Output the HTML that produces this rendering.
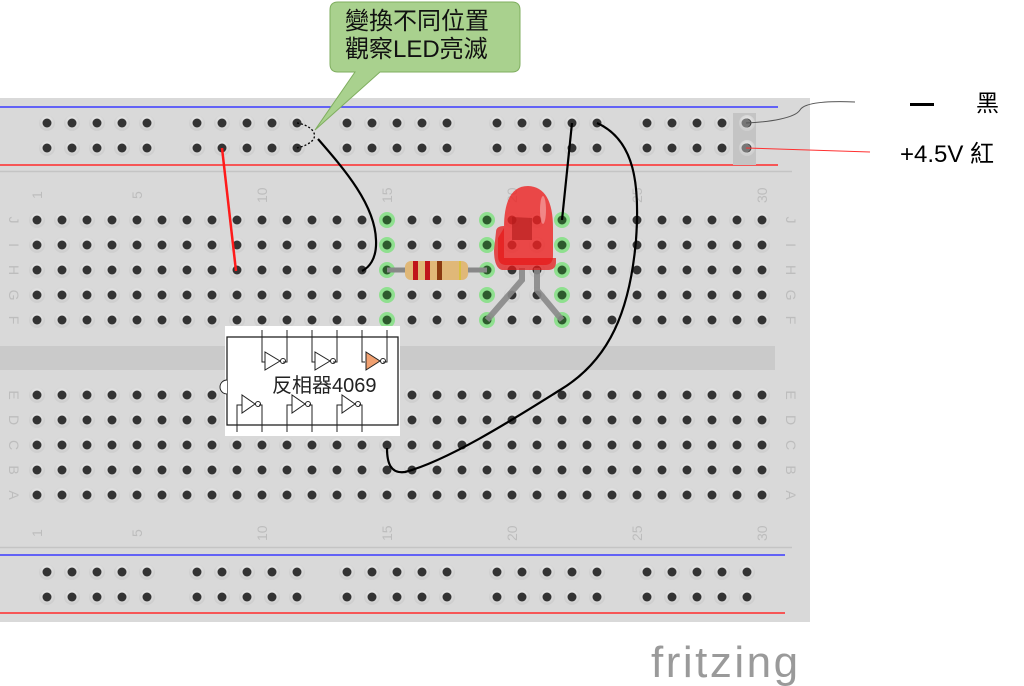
<!DOCTYPE html>
<html><head><meta charset="utf-8"><style>
html,body{margin:0;padding:0;background:#fff;width:1024px;height:686px;overflow:hidden}
svg{display:block}
text{font-family:"Liberation Sans","Noto Sans CJK TC",sans-serif}
</style></head><body>
<svg width="1024" height="686" viewBox="0 0 1024 686" xmlns="http://www.w3.org/2000/svg">
<defs>
<radialGradient id="ring" cx="50%" cy="40%" r="50%"><stop offset="0" stop-color="#f4f4f4"/><stop offset="1" stop-color="#cfcfcf"/></radialGradient>
<pattern id="grid" x="24.5" y="207.5" width="25" height="25" patternUnits="userSpaceOnUse">
<circle cx="12.5" cy="12.5" r="8" fill="url(#ring)"/><circle cx="12.5" cy="12.5" r="4.5" fill="#333"/>
</pattern>
<pattern id="rail" x="34.5" y="110.5" width="150" height="25" patternUnits="userSpaceOnUse">
<g fill="url(#ring)"><circle cx="12.5" cy="12.5" r="8"/><circle cx="37.5" cy="12.5" r="8"/><circle cx="62.5" cy="12.5" r="8"/><circle cx="87.5" cy="12.5" r="8"/><circle cx="112.5" cy="12.5" r="8"/></g>
<g fill="#333"><circle cx="12.5" cy="12.5" r="4.5"/><circle cx="37.5" cy="12.5" r="4.5"/><circle cx="62.5" cy="12.5" r="4.5"/><circle cx="87.5" cy="12.5" r="4.5"/><circle cx="112.5" cy="12.5" r="4.5"/></g>
</pattern>
<pattern id="rail2" x="34.5" y="559.5" width="150" height="25" patternUnits="userSpaceOnUse">
<g fill="url(#ring)"><circle cx="12.5" cy="12.5" r="8"/><circle cx="37.5" cy="12.5" r="8"/><circle cx="62.5" cy="12.5" r="8"/><circle cx="87.5" cy="12.5" r="8"/><circle cx="112.5" cy="12.5" r="8"/></g>
<g fill="#333"><circle cx="12.5" cy="12.5" r="4.5"/><circle cx="37.5" cy="12.5" r="4.5"/><circle cx="62.5" cy="12.5" r="4.5"/><circle cx="87.5" cy="12.5" r="4.5"/><circle cx="112.5" cy="12.5" r="4.5"/></g>
</pattern>
</defs>
<rect x="0" y="98" width="810" height="524" fill="#d9d9d9"/>
<line x1="0" y1="107" x2="778" y2="107" stroke="#3a3aff" stroke-width="1.5"/>
<line x1="0" y1="165" x2="778" y2="165" stroke="#ff2a2a" stroke-width="1.5"/>
<line x1="0" y1="171.5" x2="792" y2="171.5" stroke="#c4c4c4" stroke-width="1.5"/>
<rect x="0" y="346" width="775" height="24" fill="#cacaca"/>
<line x1="0" y1="547.5" x2="792" y2="547.5" stroke="#c4c4c4" stroke-width="1.5"/>
<line x1="0" y1="555" x2="785" y2="555" stroke="#3a3aff" stroke-width="1.5"/>
<line x1="0" y1="613" x2="785" y2="613" stroke="#ff2a2a" stroke-width="1.5"/>
<rect x="733" y="113" width="23" height="52" fill="#c4c4c4"/>
<rect x="34" y="110" width="730" height="50" fill="url(#rail)"/>
<rect x="34" y="559" width="730" height="50" fill="url(#rail2)"/>
<rect x="25" y="208" width="750" height="125" fill="url(#grid)"/>
<rect x="25" y="383" width="750" height="125" fill="url(#grid)"/>
<circle cx="746" cy="123" r="4.5" fill="#777"/><circle cx="746" cy="148" r="4.5" fill="#777"/>
<g fill="#bdbdbd" font-size="14">
<text transform="translate(42,199) rotate(-90)">1</text>
<text transform="translate(142,199) rotate(-90)">5</text>
<text transform="translate(267,203) rotate(-90)">10</text>
<text transform="translate(392,203) rotate(-90)">15</text>
<text transform="translate(517,203) rotate(-90)">20</text>
<text transform="translate(642,203) rotate(-90)">25</text>
<text transform="translate(767,203) rotate(-90)">30</text>
<text transform="translate(42,537) rotate(-90)">1</text>
<text transform="translate(142,537) rotate(-90)">5</text>
<text transform="translate(267,541) rotate(-90)">10</text>
<text transform="translate(392,541) rotate(-90)">15</text>
<text transform="translate(517,541) rotate(-90)">20</text>
<text transform="translate(642,541) rotate(-90)">25</text>
<text transform="translate(767,541) rotate(-90)">30</text>
</g>
<g fill="#bdbdbd" font-size="14" text-anchor="middle">
<text transform="translate(9,220) rotate(90)">J</text><text transform="translate(9,245) rotate(90)">I</text><text transform="translate(9,270) rotate(90)">H</text><text transform="translate(9,295) rotate(90)">G</text><text transform="translate(9,320) rotate(90)">F</text>
<text transform="translate(9,395) rotate(90)">E</text><text transform="translate(9,420) rotate(90)">D</text><text transform="translate(9,445) rotate(90)">C</text><text transform="translate(9,470) rotate(90)">B</text><text transform="translate(9,495) rotate(90)">A</text>
<text transform="translate(786,220) rotate(90)">J</text><text transform="translate(786,245) rotate(90)">I</text><text transform="translate(786,270) rotate(90)">H</text><text transform="translate(786,295) rotate(90)">G</text><text transform="translate(786,320) rotate(90)">F</text>
<text transform="translate(786,395) rotate(90)">E</text><text transform="translate(786,420) rotate(90)">D</text><text transform="translate(786,445) rotate(90)">C</text><text transform="translate(786,470) rotate(90)">B</text><text transform="translate(786,495) rotate(90)">A</text>
</g>
<g fill="#8fe08f"><circle cx="387" cy="220" r="8"/><circle cx="387" cy="245" r="8"/><circle cx="387" cy="270" r="8"/><circle cx="387" cy="295" r="8"/><circle cx="387" cy="320" r="8"/>
<circle cx="487" cy="220" r="8"/><circle cx="487" cy="245" r="8"/><circle cx="487" cy="270" r="8"/><circle cx="487" cy="295" r="8"/><circle cx="487" cy="320" r="8"/>
<circle cx="562" cy="220" r="8"/><circle cx="562" cy="245" r="8"/><circle cx="562" cy="270" r="8"/><circle cx="562" cy="295" r="8"/><circle cx="562" cy="320" r="8"/></g>
<g fill="#2d5a2d"><circle cx="387" cy="220" r="4.5"/><circle cx="387" cy="245" r="4.5"/><circle cx="387" cy="270" r="4.5"/><circle cx="387" cy="295" r="4.5"/><circle cx="387" cy="320" r="4.5"/>
<circle cx="487" cy="220" r="4.5"/><circle cx="487" cy="245" r="4.5"/><circle cx="487" cy="270" r="4.5"/><circle cx="487" cy="295" r="4.5"/><circle cx="487" cy="320" r="4.5"/>
<circle cx="562" cy="220" r="4.5"/><circle cx="562" cy="245" r="4.5"/><circle cx="562" cy="270" r="4.5"/><circle cx="562" cy="295" r="4.5"/><circle cx="562" cy="320" r="4.5"/></g>
<line x1="387" y1="270" x2="487" y2="270" stroke="#888" stroke-width="5"/>
<rect x="405" y="261" width="63" height="19" rx="6" fill="#e0b878"/>
<rect x="413" y="261" width="5" height="19" fill="#c0141a"/><rect x="425" y="261" width="5" height="19" fill="#c0141a"/><rect x="437" y="261" width="5" height="19" fill="#8a3a10"/><rect x="459" y="261" width="2" height="19" fill="#d8c040"/>
<path d="M522 268 L522 280 L487 320" stroke="#888" stroke-width="6" fill="none" opacity="0.9"/>
<path d="M537 268 L537 290 L562 320" stroke="#888" stroke-width="6" fill="none" opacity="0.9"/>
<path d="M504 228 Q504 186 528 186 Q553 187 553 228 L553 256 Q553 264 546 265 L505 265 Q498 264 498 256 L498 238 Z" fill="#ee2222" opacity="0.8"/>
<path d="M496 232 Q496 226 504 226 L504 258 L556 258 L556 262 Q556 270 548 270 L502 270 Q494 268 494 250Z" fill="#e41a1a" opacity="0.75"/>
<path d="M512 217 L512 240 L532 240 L532 218 Z" fill="#b01a1a" opacity="0.6"/>
<ellipse cx="543" cy="210" rx="3" ry="14" fill="#fff" opacity="0.35"/>
<line x1="222" y1="148" x2="236" y2="271" stroke="#ff1a1a" stroke-width="2.5"/>
<path d="M318 139 C345 170 375 205 376 240 C377 260 368 268 362 271" stroke="#000" stroke-width="2.2" fill="none"/>
<path d="M297 123 C310 125 318 133 313 140 C307 146 300 147 297 148" stroke="#000" stroke-width="1.3" stroke-dasharray="2,2" fill="none"/>
<line x1="572" y1="123" x2="562" y2="220" stroke="#000" stroke-width="2.2"/>
<path d="M597 123 C635 140 640 185 636 240 C630 310 610 360 560 390 C520 415 450 460 405 472 C390 474 387 462 387 448" stroke="#000" stroke-width="2.2" fill="none"/>
<path d="M746 123 C770 122 795 118 800 110 C805 102 830 101 855 102" stroke="#555" stroke-width="1" fill="none"/>
<line x1="746" y1="148" x2="870" y2="152" stroke="#ff3030" stroke-width="1"/>
<rect x="225" y="326" width="175" height="110" fill="#fff"/>
<rect x="227" y="337" width="171" height="88" fill="none" stroke="#222" stroke-width="1.3"/>
<path d="M227 380 A7 7 0 0 0 227 394" fill="#fff" stroke="#222" stroke-width="1"/>
<g stroke="#222" stroke-width="1" fill="none">
<path d="M262 330V362H265 M287 330V362H283 M312 330V362H315 M337 330V362H333 M362 330V362H365 M387 330V362H383"/>
<path d="M265 352L265 370L280 361Z M315 352L315 370L330 361Z"/><circle cx="283" cy="361" r="2.5"/><circle cx="333" cy="361" r="2.5"/><circle cx="383" cy="361" r="2.5"/>
<path d="M237 432V405H242 M262 432V405H259 M287 432V405H292 M312 432V405H309 M337 432V405H342 M362 432V405H359"/>
<path d="M242 395L242 413L255 404Z M292 395L292 413L305 404Z M342 395L342 413L355 404Z"/><circle cx="258" cy="404" r="2.5"/><circle cx="308" cy="404" r="2.5"/><circle cx="358" cy="404" r="2.5"/>
</g>
<path d="M366 352L366 370L380 361Z" fill="#f0a070" stroke="#222" stroke-width="1"/>
<text x="272" y="392" font-size="20" fill="#222">反相器4069</text>
<path d="M338 2 H512 Q520 2 520 10 V64 Q520 72 512 72 H380 L315 130 L355 72 H338 Q330 72 330 64 V10 Q330 2 338 2Z" fill="#a9d18e" stroke="#7fae5f" stroke-width="1"/>
<text x="345" y="29" font-size="24" fill="#111">變換不同位置</text>
<text x="345" y="57" font-size="24" fill="#111">觀察LED亮滅</text>
<rect x="910" y="103" width="24" height="3" fill="#000"/>
<text x="976" y="111" font-size="23" fill="#000">黑</text>
<text x="900" y="162" font-size="24" fill="#000">+4.5V 紅</text>
<text x="651" y="677" font-size="44" fill="#9a9a9a" letter-spacing="2.5">fritzing</text>
</svg>
</body></html>
